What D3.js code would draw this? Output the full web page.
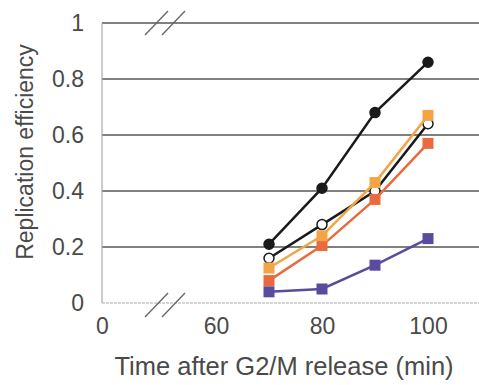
<!DOCTYPE html>
<html>
<head>
<meta charset="utf-8">
<script src="https://cdn.jsdelivr.net/npm/d3@7"></script>
<style>
  body { margin: 0; background: #fff; }
  text { font-family: "Liberation Sans", Arial, sans-serif; fill: #4a4a4a; }
</style>
</head>
<body>
<script>
const times = [70, 80, 90, 100]
const blackFilled = [0.21, 0.41, 0.68, 0.86]
const whiteOpen = [0.16, 0.28, 0.40, 0.64]
const lightOrange = [0.125, 0.24, 0.43, 0.67]
const redOrange = [0.08, 0.205, 0.37, 0.57]
const purple = [0.04, 0.05, 0.135, 0.23]

const xTicks = [0, 60, 80, 100]
const yTicks = [0, 0.2, 0.4, 0.6, 0.8, 1]
const yTickLabels = ['0', '0.2', '0.4', '0.6', '0.8', '1']

const width = 479
const height = 385

const svg = d3.select('body').append('svg')
  .attr('width', width)
  .attr('height', height)

// broken x axis: 0 then jump to 60
const x = d3.scaleLinear().domain([0, 60, 110]).range([102, 216, 481])
const y = d3.scaleLinear().domain([0, 1]).range([303, 23])

// gridlines
svg.selectAll('line.grid')
  .data(yTicks)
  .enter().append('line')
  .classed('grid', true)
  .attr('x1', x(0))
  .attr('x2', width)
  .attr('y1', d => y(d))
  .attr('y2', d => y(d))
  .attr('stroke', d => d === 0 ? '#aaa' : '#555')
  .attr('stroke-width', d => d === 0 ? 1.2 : 1.5)
  .attr('stroke-dasharray', d => d === 0 ? '3,1' : null)

// y axis line
svg.append('line')
  .attr('x1', x(0)).attr('x2', x(0))
  .attr('y1', y(1)).attr('y2', y(0))
  .attr('stroke', '#aaa')
  .attr('stroke-width', 1.2)

const yAxis = svg.append('g')
  .attr('transform', 'translate(84,0)')
  .call(d3.axisLeft(y).tickValues(yTicks).tickSize(0).tickPadding(0)
    .tickFormat((d, i) => yTickLabels[i]))
yAxis.select('.domain').remove()
yAxis.selectAll('text')
  .attr('font-size', 23)
  .attr('font-family', '"Liberation Sans", Arial, sans-serif')
  .attr('fill', '#4a4a4a')

const xAxis = svg.append('g')
  .attr('transform', 'translate(0,318)')
  .call(d3.axisBottom(x).tickValues(xTicks).tickSize(0).tickPadding(0))
xAxis.select('.domain').remove()
xAxis.selectAll('text')
  .attr('font-size', 23)
  .attr('font-family', '"Liberation Sans", Arial, sans-serif')
  .attr('fill', '#4a4a4a')

// axis break marks
const breaks = [y(1), y(0) + 2]
breaks.forEach(cy => {
  [0, 17].forEach(dx => {
    svg.append('line')
      .attr('x1', 145 + dx).attr('y1', cy + 12)
      .attr('x2', 168 + dx).attr('y2', cy - 12)
      .attr('stroke', '#666')
      .attr('stroke-width', 1.3)
  })
})

// titles
svg.append('text')
  .attr('x', 284)
  .attr('y', 375)
  .attr('text-anchor', 'middle')
  .attr('font-size', 25.5)
  .text('Time after G2/M release (min)')

svg.append('text')
  .attr('transform', 'translate(33,152) rotate(-90)')
  .attr('text-anchor', 'middle')
  .attr('font-size', 23)
  .text('Replication efficiency')

const series = [
  {values: whiteOpen, line: '#1a1a1a', fill: '#fff', shape: 'circle'},
  {values: purple, line: '#5a4b9f', fill: '#5a4b9f', shape: 'square'},
  {values: redOrange, line: '#ea6a3e', fill: '#ea6a3e', shape: 'square'},
  {values: lightOrange, line: '#f3a444', fill: '#f3a444', shape: 'square'},
  {values: blackFilled, line: '#1a1a1a', fill: '#1a1a1a', shape: 'circle'}
]

const line = d3.line()
  .x((d, i) => x(times[i]))
  .y(d => y(d))

const groups = svg.selectAll('g.series')
  .data(series)
  .enter().append('g')
  .classed('series', true)

groups.append('path')
  .attr('d', d => line(d.values))
  .attr('fill', 'none')
  .attr('stroke', d => d.line)
  .attr('stroke-width', 2.5)

groups.each(function (s) {
  const g = d3.select(this)
  if (s.shape === 'circle') {
    g.selectAll('circle')
      .data(s.values)
      .enter().append('circle')
      .attr('cx', (d, i) => x(times[i]))
      .attr('cy', d => y(d))
      .attr('r', 5)
      .attr('fill', s.fill)
      .attr('stroke', '#1a1a1a')
      .attr('stroke-width', 1.5)
  } else {
    g.selectAll('rect')
      .data(s.values)
      .enter().append('rect')
      .attr('x', (d, i) => x(times[i]) - 5.5)
      .attr('y', d => y(d) - 5.5)
      .attr('width', 11)
      .attr('height', 11)
      .attr('fill', s.fill)
  }
})
</script>
</body>
</html>
